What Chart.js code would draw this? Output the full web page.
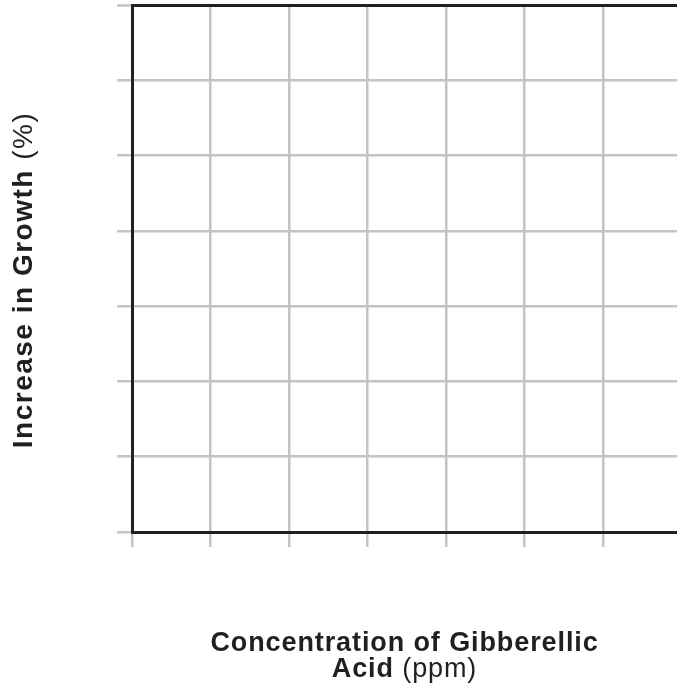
<!DOCTYPE html>
<html>
<head>
<meta charset="utf-8">
<script src="https://cdn.jsdelivr.net/npm/chart.js@4/dist/chart.umd.min.js"></script>
<style>
  html, body { margin: 0; padding: 0; background: #ffffff; }
  #wrap { position: relative; width: 677px; height: 691px; overflow: hidden; }
  #c { position: absolute; left: 0; top: 0; }
  .ttl { position: absolute; font-family: "Liberation Sans", Arial, Helvetica, sans-serif; color: #231f20; text-align: center; white-space: nowrap; }
  .ttl b { font-weight: bold; }
  .ttl span { font-weight: normal; }
  #xt { left: 154.5px; width: 500px; top: 628.6px; font-size: 27px; line-height: 26px; letter-spacing: 0.9px; }
  #yt { left: -176.7px; top: 265px; width: 400px; height: 30px; font-size: 28px; line-height: 30px; letter-spacing: 1.5px; transform: rotate(-90deg); transform-origin: 50% 50%; }
</style>
</head>
<body>
<div id="wrap">
  <canvas id="c" width="677" height="691"></canvas>
  <div class="ttl" id="xt"><b>Concentration of Gibberellic</b><br><b>Acid</b> <span>(ppm)</span></div>
  <div class="ttl" id="yt"><b>Increase in Growth</b> <span>(%)</span></div>
</div>
<script>
// Tick positions of the empty answer grid
const xTickValues = [0, 1, 2, 3, 4, 5, 6];
const yTickValues = [0, 1, 2, 3, 4, 5, 6, 7];
// No data plotted on this blank graph
const seriesPoints = [];

const GRID = '#c4c4c8';
const DARK = '#231f20';

const ctx = document.getElementById('c').getContext('2d');
new Chart(ctx, {
  type: 'scatter',
  data: { datasets: [{ data: seriesPoints, showLine: false }] },
  options: {
    responsive: false,
    animation: false,
    devicePixelRatio: 1,
    layout: { padding: { left: 0, top: 5, right: 0, bottom: 0 } },
    plugins: { legend: { display: false }, tooltip: { enabled: false }, title: { display: false } },
    scales: {
      x: {
        type: 'linear',
        min: 0,
        max: 6.94,
        afterBuildTicks: s => { s.ticks = xTickValues.map(v => ({ value: v })); },
        afterFit: s => { s.height = 159; },
        ticks: { display: false },
        grid: { color: GRID, lineWidth: 2.5, tickColor: GRID, tickWidth: 2.5, tickLength: 15, drawTicks: true },
        border: { display: true, color: DARK, width: 3 }
      },
      y: {
        type: 'linear',
        min: 0,
        max: 7,
        afterBuildTicks: s => { s.ticks = yTickValues.map(v => ({ value: v })); },
        afterFit: s => { s.width = 132; },
        ticks: { display: false },
        grid: {
          color: c => (c.tick && c.tick.value === 7 ? DARK : GRID),
          lineWidth: c => (c.tick && c.tick.value === 7 ? 3 : 2.5),
          tickColor: GRID, tickWidth: 2.5, tickLength: 15, drawTicks: true
        },
        border: { display: true, color: DARK, width: 3 }
      }
    }
  }
});
</script>
</body>
</html>
